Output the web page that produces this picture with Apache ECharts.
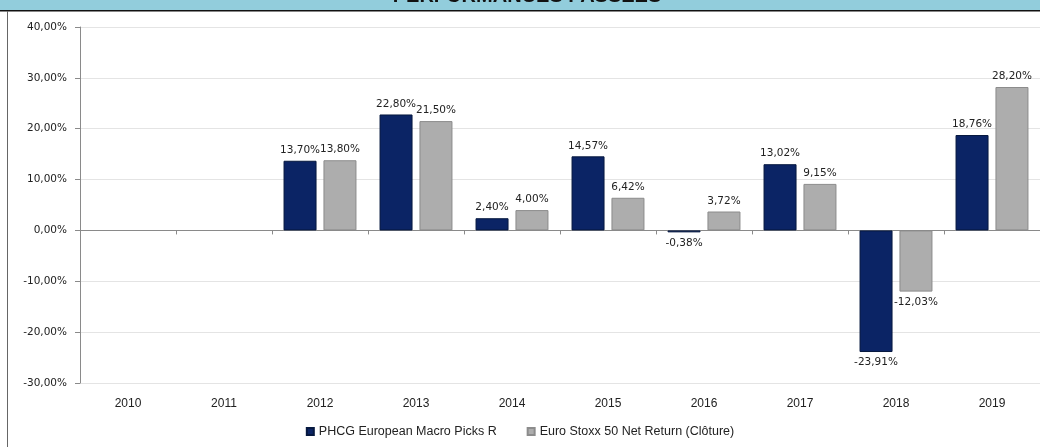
<!DOCTYPE html>
<html>
<head>
<meta charset="utf-8">
<script src="https://cdn.jsdelivr.net/npm/echarts@6/dist/echarts.min.js"></script>
<style>
  html, body { margin: 0; padding: 0; background: #fff; }
  #chart { width: 1040px; height: 447px; }
</style>
</head>
<body>
<div id="chart"></div>
<script>
// années et performances annuelles (%)
const years = ['2010', '2011', '2012', '2013', '2014', '2015', '2016', '2017', '2018', '2019'];
const phcg = [null, null, 13.70, 22.80, 2.40, 14.57, -0.38, 13.02, -23.91, 18.76];
const euroStoxx = [null, null, 13.80, 21.50, 4.00, 6.42, 3.72, 9.15, -12.03, 28.20];
const seriesNames = ['PHCG European Macro Picks R', 'Euro Stoxx 50 Net Return (Clôture)'];

const chart = echarts.init(document.getElementById('chart'));

// format français : 13,70%
const pct = v => v.toFixed(2).replace('.', ',') + '%';

const labelStyle = {
    show: true,
    fontFamily: 'DejaVu Sans',
    fontSize: 10.5,
    color: '#222',
    distance: 5,
    formatter: p => pct(p.value)
};

function bars(name, data, color, border) {
    return {
        name: name,
        type: 'bar',
        data: data.map(v => v == null ? null : {
            value: v,
            label: { position: v < 0 ? 'bottom' : 'top' }
        }),
        barWidth: 33,
        barGap: '21%',
        itemStyle: {
            color: color,
            borderColor: border,
            borderWidth: 1
        },
        label: labelStyle
    };
}

const option = {
    animation: false,
    grid: { left: 80, right: 0, top: 27, bottom: 64 },
    legend: {
        bottom: 4,
        left: 'center',
        icon: 'rect',
        itemWidth: 7,
        itemHeight: 7,
        itemGap: 30,
        textStyle: { fontFamily: 'Liberation Sans', fontSize: 12.5, color: '#222' },
        data: seriesNames
    },
    xAxis: [
        {
            type: 'category',
            data: years,
            axisLine: { onZero: true, lineStyle: { color: '#8a8a8a' } },
            axisTick: { show: true, length: 4, lineStyle: { color: '#8a8a8a' } },
            axisLabel: { show: false }
        },
        {
            type: 'category',
            data: years,
            position: 'bottom',
            axisLine: { show: false, onZero: false },
            axisTick: { show: false },
            axisLabel: {
                margin: 15,
                fontFamily: 'Liberation Sans',
                fontSize: 12,
                color: '#222'
            }
        }
    ],
    yAxis: {
        type: 'value',
        min: -30,
        max: 40,
        interval: 10,
        axisLine: { show: true, lineStyle: { color: '#8a8a8a' } },
        axisTick: { show: true, length: 5, lineStyle: { color: '#8a8a8a' } },
        axisLabel: {
            margin: 13,
            fontFamily: 'DejaVu Sans',
            fontSize: 10.5,
            color: '#222',
            formatter: v => pct(v)
        },
        splitLine: { lineStyle: { color: '#e4e4e4' } }
    },
    series: [
        bars(seriesNames[0], phcg, '#0B2465', '#06183f'),
        bars(seriesNames[1], euroStoxx, '#ADADAD', '#8c8c8c')
    ],
    graphic: [
        { type: 'rect', shape: { x: 0, y: 0, width: 1040, height: 10 }, style: { fill: '#92CDDC' }, z: 10 },
        {
            type: 'text', x: 527, y: 6, z: 11,
            style: {
                text: 'PERFORMANCES PASSEES',
                fontFamily: 'Liberation Sans',
                fontWeight: 'bold',
                fontSize: 20,
                fill: '#111',
                textAlign: 'center',
                textVerticalAlign: 'bottom'
            }
        },
        { type: 'rect', shape: { x: 0, y: 10, width: 1040, height: 1.5 }, style: { fill: '#111' }, z: 12 },
        { type: 'rect', shape: { x: 7, y: 11, width: 1, height: 436 }, style: { fill: '#666' }, z: 13 }
    ]
};

chart.setOption(option);
</script>
</body>
</html>
